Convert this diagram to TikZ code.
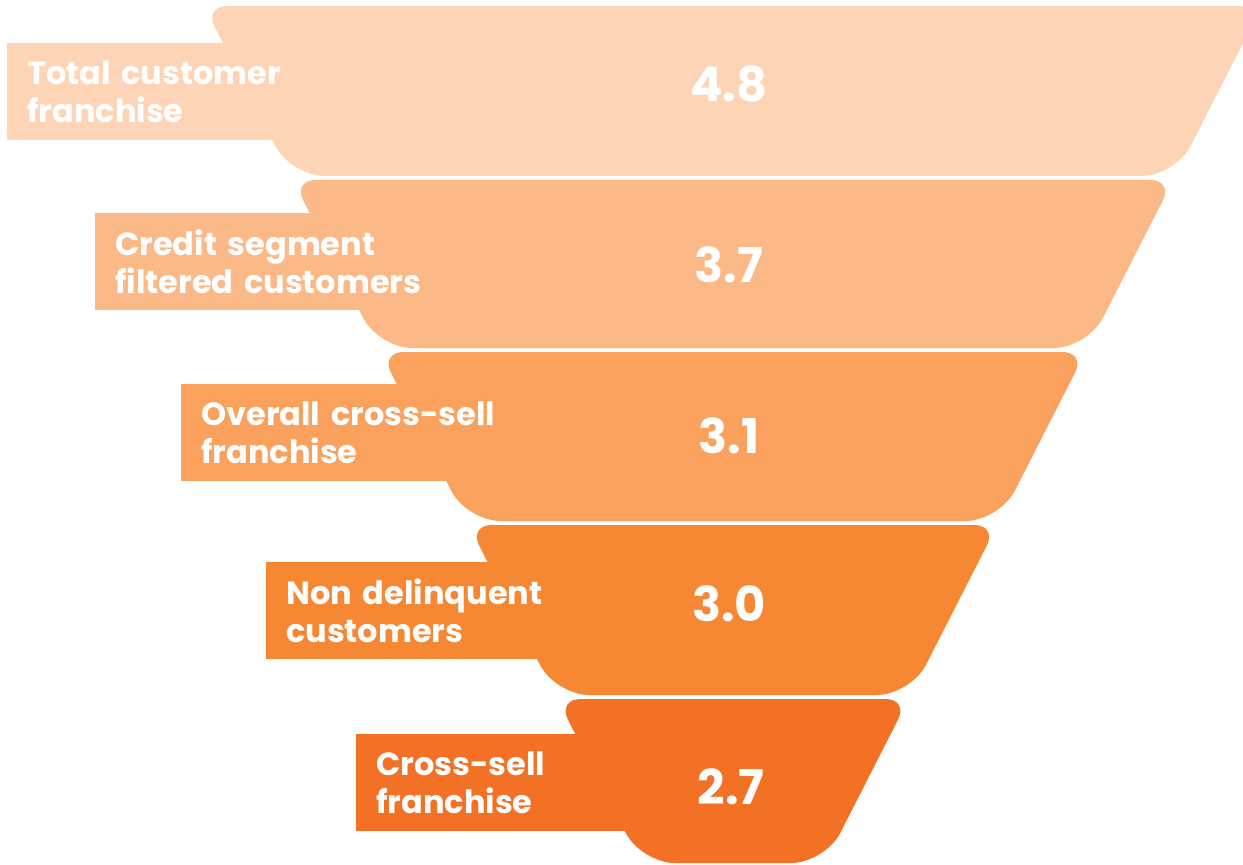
\documentclass[tikz,border=0pt]{standalone}
\usepackage{fontspec}
\setmainfont{Poppins}

\definecolor{funnelA}{HTML}{FDD5B6}
\definecolor{funnelB}{HTML}{FBB987}
\definecolor{funnelC}{HTML}{F9A15D}
\definecolor{funnelD}{HTML}{F68833}
\definecolor{funnelE}{HTML}{F37124}

\tikzset{
    labelbox/.style={fill=#1, anchor=north west, text=white, align=left,
        font=\fontsize{32}{37.5}\selectfont\bfseries,
        text width=400pt, minimum height=97pt, inner xsep=20pt, inner ysep=0pt},
    value/.style={text=white, font=\fontsize{48}{48}\selectfont\bfseries, inner sep=0pt}
}

\begin{document}
\begin{tikzpicture}[x=1pt,y=-1pt]
    % Fix the page size
    \useasboundingbox (0,0) rectangle (1243,865);

    % Draw the funnel segments (small top corners, big bottom corners)
    \foreach \yt/\yb/\col in {6/176/funnelA, 180/348/funnelB, 352/521/funnelC, 525/695/funnelD, 699/863/funnelE} {
        \pgfmathsetmacro\wt{529-0.51*(\yt-6)}
        \pgfmathsetmacro\wb{529-0.51*(\yb-6)}
        \fill[\col] (733,\yt) [rounded corners=23pt] -- ({733+\wt},\yt) [rounded corners=34pt] -- ({733+\wb},\yb)
            -- ({733-\wb},\yb) [rounded corners=23pt] -- ({733-\wt},\yt) -- cycle;
    }

    % Labels on the left
    \node[labelbox=funnelA] (total) at (7,43) {Total customer\\franchise};
    \node[labelbox=funnelB] (credit) at (95,213) {Credit segment\\filtered customers};
    \node[labelbox=funnelC] (overall) at (181,384) {Overall cross-sell\\franchise};
    \node[labelbox=funnelD] (nondel) at (266,562) {Non delinquent\\customers};
    \node[labelbox=funnelE] (crosssell) at (356,734) {Cross-sell\\franchise};

    % Values in the middle
    \node[value] (vtotal) at (729,84) {4.8};
    \node[value] (vcredit) at (729,264.5) {3.7};
    \node[value] (voverall) at (729,435.5) {3.1};
    \node[value] (vnondel) at (729,604) {3.0};
    \node[value] (vcrosssell) at (731,787) {2.7};
\end{tikzpicture}
\end{document}
